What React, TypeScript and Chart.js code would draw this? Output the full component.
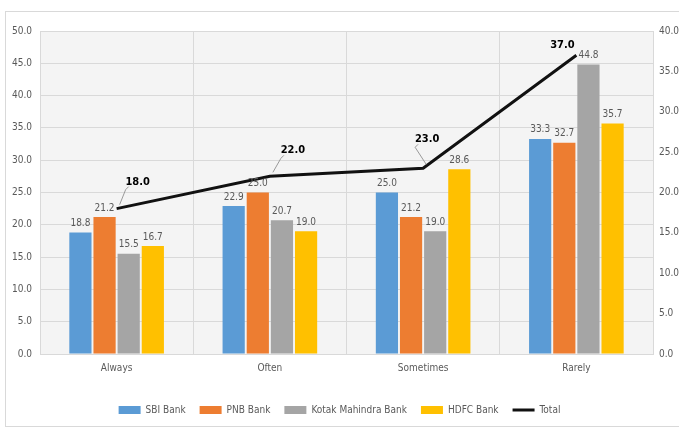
import React, { useEffect, useRef } from "react";
import { Chart, registerables } from "chart.js";

Chart.register(...registerables);

const categories = ["Always", "Often", "Sometimes", "Rarely"];
const sbiBank = [18.8, 22.9, 25.0, 33.3];
const pnbBank = [21.2, 25.0, 21.2, 32.7];
const kotakBank = [15.5, 20.7, 19.0, 44.8];
const hdfcBank = [16.7, 19.0, 28.6, 35.7];
const total = [18.0, 22.0, 23.0, 37.0];

const FONT = "'Liberation Sans Narrow', 'DejaVu Sans Condensed', 'Roboto Condensed', sans-serif";
const totalLabelOffsets = [
  [21, -27],
  [23, -26],
  [4, -29],
  [-14, -10],
];

const decorPlugin = {
  id: "decor",
  beforeDraw(chart: any) {
    const { ctx, chartArea } = chart;
    ctx.save();
    ctx.fillStyle = "#ffffff";
    ctx.fillRect(0, 0, chart.width, chart.height);
    ctx.strokeStyle = "#d9d9d9";
    ctx.lineWidth = 1;
    ctx.strokeRect(5.5, 11.5, chart.width, chart.height - 14);
    ctx.fillStyle = "#f4f4f4";
    ctx.fillRect(chartArea.left, chartArea.top, chartArea.right - chartArea.left, chartArea.bottom - chartArea.top);
    ctx.restore();
  },
  afterDatasetsDraw(chart: any) {
    const { ctx } = chart;
    ctx.save();
    ctx.textAlign = "center";
    ctx.textBaseline = "bottom";
    for (let d = 0; d < 4; d++) {
      const meta = chart.getDatasetMeta(d);
      const data = chart.data.datasets[d].data;
      ctx.font = `10px ${FONT}`;
      ctx.fillStyle = "#595959";
      meta.data.forEach((el: any, i: number) => {
        ctx.fillText(Number(data[i]).toFixed(1), el.x, el.y - 4);
      });
    }
    const lm = chart.getDatasetMeta(4);
    ctx.font = `bold 11px ${FONT}`;
    ctx.fillStyle = "#000000";
    ctx.strokeStyle = "#9a9a9a";
    ctx.lineWidth = 1;
    lm.data.forEach((el: any, i: number) => {
      const [dx, dy] = totalLabelOffsets[i];
      const lx = el.x + dx;
      const ly = el.y + dy;
      if (i < 3) {
        ctx.beginPath();
        ctx.moveTo(el.x + 3, el.y - 4);
        ctx.lineTo(lx - 12, ly + 8);
        ctx.lineTo(lx - 9, ly + 5);
        ctx.stroke();
      }
      ctx.textBaseline = "middle";
      ctx.fillText(total[i].toFixed(1), lx, ly);
    });
    ctx.restore();
  },
};

export default function App() {
  const ref = useRef<HTMLCanvasElement>(null);
  useEffect(() => {
    const barCommon = { categoryPercentage: 0.63, barPercentage: 0.92, borderWidth: 0, yAxisID: "y", order: 1, pointStyle: "rect" };
    const chart = new Chart(ref.current!, {
      type: "bar",
      data: {
        labels: categories,
        datasets: [
          { label: "SBI Bank", data: sbiBank, backgroundColor: "#5B9BD5", ...barCommon } as any,
          { label: "PNB Bank", data: pnbBank, backgroundColor: "#ED7D31", ...barCommon },
          { label: "Kotak Mahindra Bank", data: kotakBank, backgroundColor: "#A5A5A5", ...barCommon },
          { label: "HDFC Bank", data: hdfcBank, backgroundColor: "#FFC000", ...barCommon },
          {
            type: "line",
            label: "Total",
            data: total,
            borderColor: "#111111",
            backgroundColor: "#111111",
            borderWidth: 3,
            pointRadius: 0,
            pointStyle: "line",
            yAxisID: "y1",
            order: 0,
            tension: 0,
          } as any,
        ],
      },
      options: {
        animation: false,
        responsive: false,
        maintainAspectRatio: false,
        layout: { padding: { top: 31, left: 0, right: 0, bottom: 4 } },
        plugins: {
          tooltip: { enabled: false },
          legend: {
            position: "bottom",
            labels: {
              usePointStyle: true,
              pointStyleWidth: 22,
              boxHeight: 8,
              boxWidth: 22,
              padding: 14,
              color: "#595959",
              font: { family: FONT, size: 10 },
              sort: (a: any, b: any) => a.datasetIndex - b.datasetIndex,
            },
          },
        },
        scales: {
          x: {
            grid: { color: "#d9d9d9", drawTicks: false, offset: true },
            border: { display: true, color: "#d9d9d9" },
            ticks: { color: "#595959", font: { family: FONT, size: 10 }, padding: 8 },
            afterFit: (s: any) => { s.height = 37; },
          } as any,
          y: {
            position: "left",
            min: 0,
            max: 50,
            ticks: {
              stepSize: 5,
              color: "#595959",
              font: { family: FONT, size: 10 },
              callback: (v: any) => Number(v).toFixed(1),
              padding: 8,
            },
            grid: { color: "#d9d9d9", drawTicks: false },
            border: { display: false },
            afterFit: (s: any) => { s.width = 40; },
          } as any,
          y1: {
            position: "right",
            min: 0,
            max: 40,
            ticks: {
              stepSize: 5,
              color: "#595959",
              font: { family: FONT, size: 10 },
              callback: (v: any) => Number(v).toFixed(1),
              padding: 6,
            },
            grid: { display: false, drawTicks: false },
            border: { display: false },
            afterFit: (s: any) => { s.width = 26; },
          } as any,
        },
      },
      plugins: [decorPlugin],
    });
    return () => chart.destroy();
  }, []);
  return (
    <div style={{ position: "absolute", left: 0, top: 0, width: 679, height: 429 }}>
      <canvas ref={ref} width={679} height={429} style={{ width: 679, height: 429 }} />
    </div>
  );
}
